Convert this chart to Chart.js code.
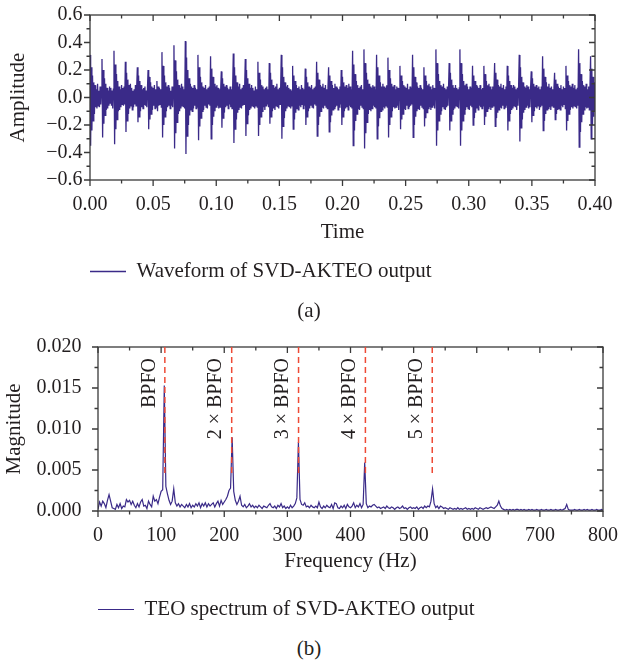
<!DOCTYPE html>
<html>
<head>
<meta charset="utf-8">
<script src="https://cdn.jsdelivr.net/npm/chart.js@4.4.1/dist/chart.umd.min.js"></script>
<style>
  html, body { margin: 0; padding: 0; background: #ffffff; }
  body { width: 618px; height: 664px; position: relative; overflow: hidden; }
  .panel { position: absolute; left: 0; width: 618px; }
  .caption { position: absolute; left: 0; width: 618px; text-align: center;
             font: 21px "Liberation Serif", "Times New Roman", serif; line-height: 24px; color: #231f20; }
</style>
</head>
<body>
<div class="panel" style="top:0;height:292px"><canvas id="waveChart" width="618" height="292"></canvas></div>
<div class="panel" style="top:320px;height:310px"><canvas id="specChart" width="618" height="310"></canvas></div>
<div class="caption" style="top:298px">(a)</div>
<div class="caption" style="top:636px">(b)</div>
<script>
// ---- Time-domain output of SVD-AKTEO (sampled every 0.5 ms, 0 to 0.4 s) ----
const SAMPLE_STEP = 0.0005;
const waveValues = [
  0.31,-0.35,0.22,-0.24,0.16,-0.17,0.11,-0.12,0.09,-0.07,0.06,-0.08,0.1,-0.06,0.05,-0.07,0.08,-0.05,0.06,
  0.28,-0.29,0.2,-0.19,0.14,-0.13,0.1,-0.09,0.07,-0.08,0.05,-0.06,0.08,-0.04,0.07,-0.06,0.05,-0.08,0.06,
  0.34,-0.34,0.24,-0.23,0.17,-0.16,0.12,-0.1,0.08,-0.09,0.06,-0.07,0.09,-0.05,0.07,-0.06,0.08,-0.05,
  0.26,-0.25,0.18,-0.17,0.13,-0.12,0.09,-0.08,0.1,-0.06,0.07,-0.09,0.05,-0.07,0.06,-0.05,0.09,-0.06,0.07,
  0.22,-0.18,0.16,-0.14,0.12,-0.1,0.09,-0.07,0.06,-0.08,0.07,-0.05,0.08,-0.06,0.05,-0.07,0.06,
  0.2,-0.23,0.15,-0.16,0.11,-0.12,0.08,-0.09,0.07,-0.06,0.09,-0.08,0.06,-0.07,0.12,-0.1,0.08,-0.06,0.07,-0.05,0.06,-0.07,
  0.33,-0.29,0.23,-0.2,0.16,-0.14,0.11,-0.1,0.08,-0.07,0.09,-0.06,0.07,-0.08,0.05,-0.06,0.08,-0.07,0.06,
  0.38,-0.37,0.27,-0.26,0.19,-0.18,0.13,-0.12,0.09,-0.1,0.07,-0.08,0.1,-0.06,0.08,-0.07,0.06,-0.08,
  0.41,-0.41,0.29,-0.28,0.2,-0.2,0.14,-0.13,0.1,-0.09,0.08,-0.1,0.07,-0.08,0.09,-0.06,0.07,-0.08,0.06,-0.07,
  0.31,-0.31,0.22,-0.21,0.15,-0.15,0.11,-0.1,0.08,-0.09,0.07,-0.06,0.09,-0.07,0.06,-0.08,0.07,-0.05,0.08,-0.06,
  0.3,-0.3,0.21,-0.2,0.15,-0.14,0.1,-0.1,0.08,-0.07,0.09,-0.06,0.07,-0.08,0.06,-0.07,0.05,
  0.19,-0.22,0.14,-0.15,0.1,-0.11,0.08,-0.07,0.09,-0.06,0.07,-0.08,0.06,-0.05,0.08,-0.07,0.06,-0.08,0.07,
  0.32,-0.33,0.22,-0.23,0.16,-0.16,0.11,-0.11,0.08,-0.09,0.1,-0.07,0.06,-0.08,0.07,-0.06,0.09,-0.05,0.07,
  0.28,-0.28,0.2,-0.19,0.14,-0.13,0.1,-0.09,0.07,-0.08,0.09,-0.06,0.07,-0.07,0.05,-0.08,0.08,-0.06,0.06,-0.07,
  0.26,-0.28,0.18,-0.2,0.13,-0.14,0.09,-0.1,0.08,-0.07,0.06,-0.09,0.07,-0.06,0.08,-0.05,0.06,-0.07,
  0.25,-0.19,0.18,-0.14,0.13,-0.1,0.09,-0.08,0.07,-0.09,0.08,-0.06,0.1,-0.07,0.06,-0.08,0.07,-0.05,0.06,
  0.31,-0.3,0.22,-0.21,0.15,-0.15,0.11,-0.1,0.08,-0.08,0.09,-0.06,0.07,-0.07,0.06,-0.08,0.05,-0.06,
  0.23,-0.23,0.16,-0.16,0.12,-0.11,0.09,-0.08,0.07,-0.09,0.08,-0.06,0.06,-0.07,0.09,-0.05,0.07,-0.08,0.06,-0.06,
  0.21,-0.2,0.15,-0.14,0.11,-0.1,0.08,-0.08,0.07,-0.06,0.09,-0.07,0.06,-0.08,0.07,-0.05,0.08,-0.06,
  0.26,-0.28,0.18,-0.2,0.13,-0.14,0.09,-0.1,0.08,-0.07,0.1,-0.08,0.07,-0.06,0.09,-0.07,0.06,-0.08,0.07,
  0.22,-0.25,0.16,-0.18,0.12,-0.13,0.09,-0.09,0.07,-0.08,0.1,-0.07,0.08,-0.06,0.07,-0.09,0.06,-0.07,0.08,-0.05,
  0.2,-0.2,0.15,-0.14,0.11,-0.1,0.08,-0.08,0.09,-0.07,0.07,-0.09,0.1,-0.06,0.08,-0.07,0.06,-0.08,
  0.34,-0.35,0.24,-0.24,0.17,-0.17,0.12,-0.12,0.09,-0.08,0.07,-0.09,0.08,-0.06,0.09,-0.07,0.06,-0.08,
  0.35,-0.37,0.25,-0.26,0.18,-0.18,0.13,-0.12,0.1,-0.09,0.08,-0.1,0.07,-0.08,0.09,-0.06,0.08,-0.07,0.06,-0.08,
  0.31,-0.3,0.22,-0.21,0.16,-0.15,0.11,-0.1,0.08,-0.09,0.1,-0.07,0.08,-0.08,0.07,-0.06,0.09,-0.07,
  0.29,-0.29,0.2,-0.2,0.14,-0.14,0.1,-0.1,0.08,-0.07,0.09,-0.08,0.06,-0.07,0.08,-0.06,0.07,-0.09,0.06,
  0.23,-0.23,0.16,-0.16,0.12,-0.12,0.09,-0.08,0.08,-0.09,0.07,-0.06,0.1,-0.08,0.06,-0.07,0.08,-0.06,0.07,-0.05,
  0.31,-0.29,0.22,-0.2,0.15,-0.14,0.11,-0.1,0.08,-0.08,0.07,-0.09,0.09,-0.06,0.07,-0.07,0.06,-0.08,
  0.22,-0.21,0.16,-0.15,0.12,-0.11,0.09,-0.08,0.1,-0.07,0.08,-0.09,0.06,-0.07,0.09,-0.06,0.07,-0.08,0.06,
  0.35,-0.35,0.25,-0.24,0.17,-0.17,0.12,-0.12,0.09,-0.1,0.08,-0.07,0.1,-0.08,0.07,-0.09,0.06,-0.07,0.08,-0.06,0.07,
  0.25,-0.24,0.18,-0.17,0.13,-0.12,0.09,-0.09,0.07,-0.08,0.09,-0.06,0.07,-0.07,0.06,-0.08,0.07,
  0.35,-0.35,0.25,-0.24,0.17,-0.17,0.12,-0.12,0.09,-0.09,0.1,-0.07,0.08,-0.08,0.06,-0.09,0.08,-0.06,0.07,-0.07,
  0.23,-0.2,0.16,-0.15,0.12,-0.11,0.09,-0.08,0.08,-0.09,0.07,-0.06,0.09,-0.07,0.06,-0.08,0.07,-0.06,
  0.23,-0.2,0.17,-0.14,0.12,-0.1,0.09,-0.08,0.1,-0.07,0.08,-0.09,0.06,-0.07,0.08,-0.06,0.07,
  0.25,-0.21,0.18,-0.15,0.13,-0.11,0.09,-0.09,0.08,-0.07,0.1,-0.08,0.07,-0.06,0.09,-0.08,0.06,-0.07,0.08,-0.06,
  0.23,-0.24,0.16,-0.17,0.12,-0.12,0.09,-0.09,0.07,-0.08,0.09,-0.06,0.08,-0.07,0.06,-0.09,0.07,-0.06,0.08,
  0.31,-0.32,0.22,-0.22,0.15,-0.16,0.11,-0.11,0.08,-0.09,0.07,-0.07,0.09,-0.06,0.08,-0.08,0.06,-0.07,0.07,
  0.19,-0.18,0.14,-0.13,0.1,-0.1,0.08,-0.07,0.09,-0.08,0.07,-0.06,0.08,-0.09,0.06,-0.07,0.08,-0.06,
  0.3,-0.24,0.21,-0.17,0.15,-0.12,0.11,-0.09,0.08,-0.08,0.1,-0.07,0.07,-0.09,0.08,-0.06,0.06,-0.07,0.07,
  0.18,-0.16,0.13,-0.12,0.1,-0.09,0.08,-0.08,0.07,-0.09,0.09,-0.06,0.06,-0.07,0.08,-0.05,0.07,-0.08,
  0.23,-0.24,0.16,-0.17,0.12,-0.12,0.09,-0.09,0.08,-0.07,0.1,-0.08,0.07,-0.06,0.09,-0.07,0.06,-0.08,0.07,-0.06,
  0.35,-0.36,0.25,-0.25,0.17,-0.18,0.12,-0.12,0.09,-0.09,0.08,-0.07,0.1,-0.08,0.06,-0.07,0.08,-0.09,0.07,
  0.3,-0.3,0.21,-0.2,0.15,-0.14,0.11,-0.1
];
const waveTimes = waveValues.map((_, i) => +(i * SAMPLE_STEP).toFixed(4));

// ---- TEO spectrum (2.5 Hz bins, 0 to 800 Hz) ----
const FREQ_STEP = 2.5;
const spectrumValues = [
  0.0002,0.0011,0.0006,0.0012,0.0009,0.0004,0.0013,0.002,0.0012,0.0004,
  0.0003,0.0002,0.0008,0.0004,0.0009,0.0003,0.0006,0.0005,0.0014,0.0011,
  0.0013,0.0008,0.0012,0.0007,0.0004,0.0009,0.0005,0.0011,0.0014,0.0006,
  0.0007,0.0003,0.0012,0.0008,0.0005,0.0018,0.0012,0.0014,0.0009,0.0017,
  0.0024,0.0026,0.0153,0.003,0.0021,0.0013,0.0008,0.0012,0.0027,0.001,
  0.0006,0.0009,0.0005,0.0008,0.0006,0.0004,0.0008,0.0005,0.0009,0.0004,
  0.0007,0.0005,0.0009,0.0006,0.001,0.0004,0.0009,0.0006,0.001,0.0005,
  0.0009,0.0006,0.0008,0.001,0.0005,0.0009,0.0012,0.0006,0.0013,0.0008,
  0.0011,0.0014,0.0018,0.0025,0.0028,0.009,0.0024,0.0013,0.0008,0.0012,
  0.0018,0.0007,0.0005,0.0008,0.0004,0.0006,0.0009,0.0005,0.0007,0.0004,
  0.0006,0.0004,0.0007,0.0005,0.0003,0.0006,0.0005,0.0004,0.0007,0.0009,
  0.0005,0.0004,0.0006,0.0003,0.0007,0.0005,0.0009,0.0004,0.0006,0.0003,
  0.0005,0.0003,0.0007,0.0004,0.0006,0.0009,0.0016,0.0084,0.0014,0.0008,
  0.0007,0.001,0.0005,0.0006,0.0004,0.0007,0.0005,0.0004,0.0006,0.0004,
  0.0011,0.0005,0.0003,0.0006,0.0004,0.0007,0.0005,0.0004,0.0008,0.0003,
  0.001,0.0009,0.0004,0.0003,0.0006,0.0004,0.0007,0.0003,0.0008,0.0005,
  0.0004,0.0006,0.001,0.0004,0.0007,0.0005,0.0009,0.0004,0.0008,0.0059,
  0.0009,0.0004,0.0006,0.0005,0.0007,0.0008,0.0006,0.0004,0.0005,0.0003,
  0.0004,0.0005,0.0003,0.0006,0.0004,0.0003,0.0005,0.0004,0.0002,0.0004,
  0.0005,0.0003,0.0004,0.0006,0.0003,0.0004,0.0002,0.0004,0.0005,0.0003,
  0.0004,0.0003,0.0005,0.0002,0.0004,0.0005,0.0003,0.0006,0.0004,0.0006,
  0.0005,0.0012,0.0027,0.0009,0.0004,0.0006,0.0003,0.0006,0.0005,0.0003,
  0.0004,0.0003,0.0002,0.0004,0.0003,0.0002,0.0003,0.0002,0.0004,0.0002,
  0.0003,0.0002,0.0003,0.0004,0.0002,0.0003,0.0002,0.0003,0.0002,0.0004,
  0.0003,0.0002,0.0004,0.0003,0.0002,0.0003,0.0004,0.0003,0.0004,0.0005,
  0.0004,0.0003,0.0005,0.0007,0.0012,0.0006,0.0003,0.0002,0.0001,0.0002,
  0.0001,0.0002,0.0001,0.0002,0.0001,0.0002,0.0002,0.0001,0.0002,0.0001,
  0.0002,0.0001,0.0001,0.0002,0.0001,0.0002,0.0001,0.0001,0.0002,0.0001,
  0.0001,0.0002,0.0001,0.0001,0.0002,0.0001,0.0001,0.0002,0.0001,0.0001,
  0.0002,0.0001,0.0001,0.0002,0.0001,0.0002,0.0003,0.0008,0.0002,0.0001,
  0.0001,0.0001,0.0002,0.0001,0.0001,0.0002,0.0001,0.0001,0.0002,0.0001,
  0.0002,0.0001,0.0001,0.0002,0.0001,0.0001,0.0002,0.0001,0.0001,0.0002,
  0.0001
];
const spectrumFreqs = spectrumValues.map((_, i) => i * FREQ_STEP);

// Outer-race fault frequency and its harmonics, with their labels
const harmonicFreqs = [105.9, 211.8, 317.7, 423.6, 529.5];
const harmonicLabels = ['BPFO', '2 \u00d7 BPFO', '3 \u00d7 BPFO', '4 \u00d7 BPFO', '5 \u00d7 BPFO'];

// Axis tick labels
const waveXTicks = ['0.00','0.05','0.10','0.15','0.20','0.25','0.30','0.35','0.40'];
const waveYTicks = ['\u22120.6','\u22120.4','\u22120.2','0.0','0.2','0.4','0.6'];
const specXTicks = ['0','100','200','300','400','500','600','700','800'];
const specYTicks = ['0.000','0.005','0.010','0.015','0.020'];

const LINE_COLOR = '#3a2a88';
const TEXT_COLOR = '#231f20';
const FRAME_COLOR = '#3a3a3a';
const SERIF = '"Liberation Serif", "Times New Roman", serif';
const font = (size) => ({ family: SERIF, size: size, weight: 'normal' });

// Boxed frame with outward ticks on the left/bottom and inward ticks on the top/right
const framePlugin = {
  id: 'frame',
  afterDatasetsDraw(chart, args, opts) {
    const { ctx, chartArea: a } = chart;
    const xs = chart.scales.x, ys = chart.scales.y;
    const near = (v, step) => Math.abs(v / step - Math.round(v / step)) < 1e-6;
    ctx.save();
    ctx.strokeStyle = FRAME_COLOR;
    ctx.lineWidth = 1.3;
    ctx.strokeRect(a.left, a.top, a.right - a.left, a.bottom - a.top);
    ctx.beginPath();
    const nx = Math.round((xs.max - xs.min) / opts.xMinor);
    for (let i = 0; i <= nx; i++) {
      const v = xs.min + i * opts.xMinor;
      const p = xs.getPixelForValue(v);
      const len = near(v - xs.min, opts.xMajor) ? 6 : 3.5;
      ctx.moveTo(p, a.bottom); ctx.lineTo(p, a.bottom + len);
      ctx.moveTo(p, a.top); ctx.lineTo(p, a.top + len);
    }
    const ny = Math.round((ys.max - ys.min) / opts.yMinor);
    for (let i = 0; i <= ny; i++) {
      const v = ys.min + i * opts.yMinor;
      const p = ys.getPixelForValue(v);
      const len = near(v - ys.min, opts.yMajor) ? 6 : 3.5;
      ctx.moveTo(a.left - len, p); ctx.lineTo(a.left, p);
      ctx.moveTo(a.right - len, p); ctx.lineTo(a.right, p);
    }
    ctx.stroke();
    ctx.restore();
  }
};

// Dashed markers at the fault harmonics, with rotated labels
const harmonicPlugin = {
  id: 'harmonics',
  afterDatasetsDraw(chart, args, opts) {
    if (!opts || !opts.freqs) return;
    const { ctx, chartArea: a } = chart;
    const xs = chart.scales.x, ys = chart.scales.y;
    ctx.save();
    ctx.strokeStyle = '#ee4a36';
    ctx.lineWidth = 1.5;
    ctx.setLineDash([6, 4]);
    opts.freqs.forEach((f) => {
      const x = xs.getPixelForValue(f);
      ctx.beginPath();
      ctx.moveTo(x, a.top);
      ctx.lineTo(x, ys.getPixelForValue(opts.lowerEnd));
      ctx.stroke();
    });
    ctx.setLineDash([]);
    ctx.fillStyle = TEXT_COLOR;
    ctx.font = '20px ' + SERIF;
    ctx.textAlign = 'right';
    ctx.textBaseline = 'middle';
    opts.freqs.forEach((f, i) => {
      const x = xs.getPixelForValue(f);
      ctx.save();
      ctx.translate(x - 15.5, a.top + 11);
      ctx.rotate(-Math.PI / 2);
      ctx.fillText(opts.labels[i], 0, 0);
      ctx.restore();
    });
    ctx.restore();
  }
};

function tickLabeller(values, labels, step) {
  return (v) => {
    const k = Math.round((v - values[0]) / step);
    return labels[k] !== undefined ? labels[k] : '';
  };
}

function legendOptions() {
  return {
    display: true,
    position: 'bottom',
    align: 'start',
    fullSize: false,
    labels: {
      usePointStyle: true,
      pointStyle: 'line',
      pointStyleWidth: 36,
      padding: 0,
      color: TEXT_COLOR,
      font: font(21)
    }
  };
}

// Keep the plot rectangle where the layout padding puts it
const fixX = (h) => (s) => { s.height = h; s.paddingLeft = 0; s.paddingRight = 0; };
const fixY = (w) => (s) => { s.width = w; s.paddingTop = 0; s.paddingBottom = 0; };

Chart.defaults.font.family = SERIF;
Chart.defaults.color = TEXT_COLOR;

new Chart(document.getElementById('waveChart'), {
  type: 'line',
  data: {
    labels: waveTimes,
    datasets: [{
      label: 'Waveform of SVD-AKTEO output',
      data: waveValues,
      borderColor: LINE_COLOR,
      backgroundColor: LINE_COLOR,
      borderWidth: 1.3,
      pointRadius: 0,
      tension: 0,
      fill: false
    }]
  },
  options: {
    responsive: false,
    animation: false,
    devicePixelRatio: 1,
    layout: { padding: { top: 15, right: 23, left: 0, bottom: 0 } },
    plugins: {
      legend: legendOptions(),
      tooltip: { enabled: false },
      frame: { xMinor: 0.025, xMajor: 0.05, yMinor: 0.1, yMajor: 0.2 }
    },
    scales: {
      x: {
        type: 'linear', min: 0, max: 0.4,
        grid: { display: false, drawTicks: false },
        border: { display: false },
        ticks: { stepSize: 0.05, padding: 13, maxRotation: 0, autoSkip: false, font: font(20), color: TEXT_COLOR,
                 callback: tickLabeller([0], waveXTicks, 0.05) },
        title: { display: true, text: 'Time', font: font(21), color: TEXT_COLOR, padding: { top: 0, bottom: 16 } },
        afterFit: fixX(81)
      },
      y: {
        type: 'linear', min: -0.6, max: 0.6,
        grid: { display: false, drawTicks: false },
        border: { display: false },
        ticks: { stepSize: 0.2, padding: 7.5, autoSkip: false, font: font(20), color: TEXT_COLOR,
                 callback: tickLabeller([-0.6], waveYTicks, 0.2) },
        title: { display: true, text: 'Amplitude', font: font(21), color: TEXT_COLOR, padding: { top: 6, bottom: 0 } },
        afterFit: fixY(90)
      }
    }
  },
  plugins: [framePlugin]
});

new Chart(document.getElementById('specChart'), {
  type: 'line',
  data: {
    labels: spectrumFreqs,
    datasets: [{
      label: 'TEO spectrum of SVD-AKTEO output',
      data: spectrumValues,
      borderColor: LINE_COLOR,
      backgroundColor: LINE_COLOR,
      borderWidth: 1.2,
      pointRadius: 0,
      tension: 0,
      fill: false
    }]
  },
  options: {
    responsive: false,
    animation: false,
    devicePixelRatio: 1,
    layout: { padding: { top: 27, right: 15, left: 0, bottom: 0 } },
    plugins: {
      legend: legendOptions(),
      tooltip: { enabled: false },
      frame: { xMinor: 50, xMajor: 100, yMinor: 0.0025, yMajor: 0.005 },
      harmonics: { freqs: harmonicFreqs, labels: harmonicLabels, lowerEnd: 0.0045 }
    },
    scales: {
      x: {
        type: 'linear', min: 0, max: 800,
        grid: { display: false, drawTicks: false },
        border: { display: false },
        ticks: { stepSize: 100, padding: 12.5, maxRotation: 0, autoSkip: false, font: font(20), color: TEXT_COLOR,
                 callback: tickLabeller([0], specXTicks, 100) },
        title: { display: true, text: 'Frequency (Hz)', font: font(21), color: TEXT_COLOR, padding: { top: 0, bottom: 24.5 } },
        afterFit: fixX(88)
      },
      y: {
        type: 'linear', min: 0, max: 0.02,
        grid: { display: false, drawTicks: false },
        border: { display: false },
        ticks: { stepSize: 0.005, padding: 16.5, autoSkip: false, font: font(20), color: TEXT_COLOR,
                 callback: tickLabeller([0], specYTicks, 0.005) },
        title: { display: true, text: 'Magnitude', font: font(21), color: TEXT_COLOR, padding: { top: 1.5, bottom: 0 } },
        afterFit: fixY(98)
      }
    }
  },
  plugins: [framePlugin, harmonicPlugin]
});
</script>
</body>
</html>
